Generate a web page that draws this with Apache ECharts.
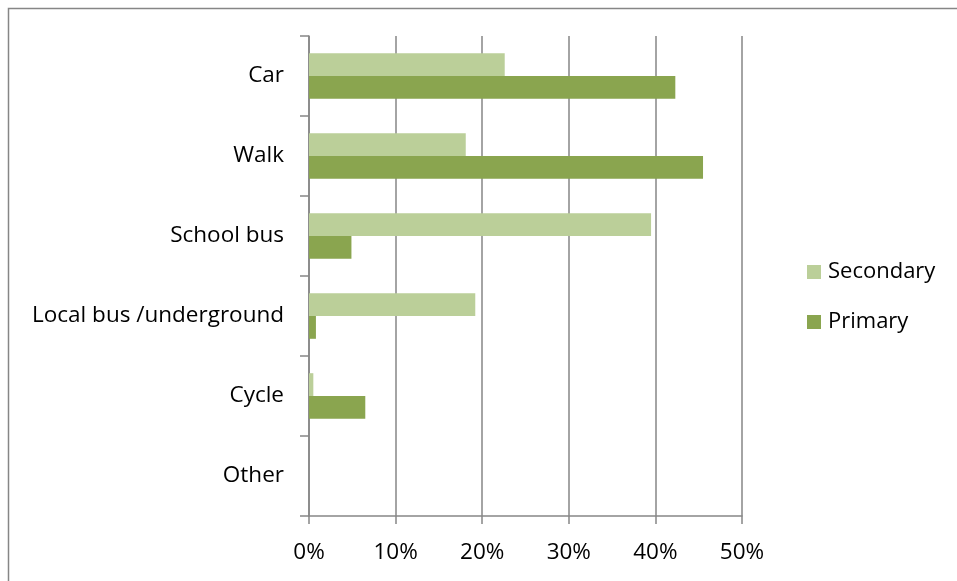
<!DOCTYPE html>
<html>
<head>
<meta charset="utf-8">
<script src="https://cdn.jsdelivr.net/npm/echarts@6/dist/echarts.min.js"></script>
<style>
  html, body { margin: 0; padding: 0; background: #fff; }
  #chart { width: 957px; height: 581px; }
</style>
</head>
<body>
<div id="chart"></div>
<script>
// data (percent of pupils)
var categories = ['Car', 'Walk', 'School bus', 'Local bus /underground', 'Cycle', 'Other']
var seriesNames = ['Secondary', 'Primary']
var secondary = [22.6, 18.1, 39.5, 19.2, 0.5, 0]
var primary = [42.3, 45.5, 4.9, 0.8, 6.5, 0]
var xTicks = [0, 10, 20, 30, 40, 50]

var colorlist = ['#BBCF99', '#8AA54F'] // secondary, primary
var axisGray = '#868686'
var fontName = 'Open Sans'

var chart = echarts.init(document.getElementById('chart'))
var option = {
  animation: false,
  textStyle: { fontFamily: fontName },
  color: colorlist,
  graphic: [{
    type: 'rect',
    shape: { x: 8.5, y: 8.5, width: 2000, height: 2000 },
    style: { fill: 'none', stroke: axisGray, lineWidth: 1.5 },
    silent: true
  }],
  legend: {
    orient: 'vertical',
    left: 807,
    top: 259,
    padding: 0,
    itemWidth: 14,
    itemHeight: 14,
    itemGap: 24,
    icon: 'rect',
    textStyle: { fontSize: 22, color: '#000', fontFamily: fontName, lineHeight: 26, padding: [0, 0, 0, 2] },
    data: seriesNames
  },
  grid: {
    left: 309,
    right: 215,
    top: 36,
    bottom: 65,
    containLabel: false
  },
  xAxis: {
    type: 'value',
    min: xTicks[0],
    max: xTicks[xTicks.length - 1],
    interval: 10,
    axisLine: { show: true, lineStyle: { color: axisGray, width: 1.5 } },
    axisTick: { show: true, length: 8, lineStyle: { color: axisGray, width: 1.5 } },
    splitLine: { show: true, lineStyle: { color: axisGray, width: 1.5 } },
    axisLabel: {
      formatter: '{value}%',
      color: '#000',
      fontSize: 22.5,
      margin: 25
    }
  },
  yAxis: {
    type: 'category',
    inverse: true,
    data: categories,
    axisLine: { show: true, lineStyle: { color: axisGray, width: 1.5 } },
    axisTick: { show: true, length: 9, lineStyle: { color: axisGray, width: 1.5 } },
    splitLine: { show: false },
    axisLabel: {
      color: '#000',
      fontSize: 22.5,
      margin: 25,
      padding: [5, 0, 0, 0]
    }
  },
  series: [
    {
      name: seriesNames[0],
      type: 'bar',
      data: secondary,
      barGap: '0%',
      barCategoryGap: '43%'
    },
    {
      name: seriesNames[1],
      type: 'bar',
      data: primary,
      barGap: '0%',
      barCategoryGap: '43%'
    }
  ]
}
chart.setOption(option)
window.addEventListener('resize', function() {
  chart.resize()
})
</script>
</body>
</html>
